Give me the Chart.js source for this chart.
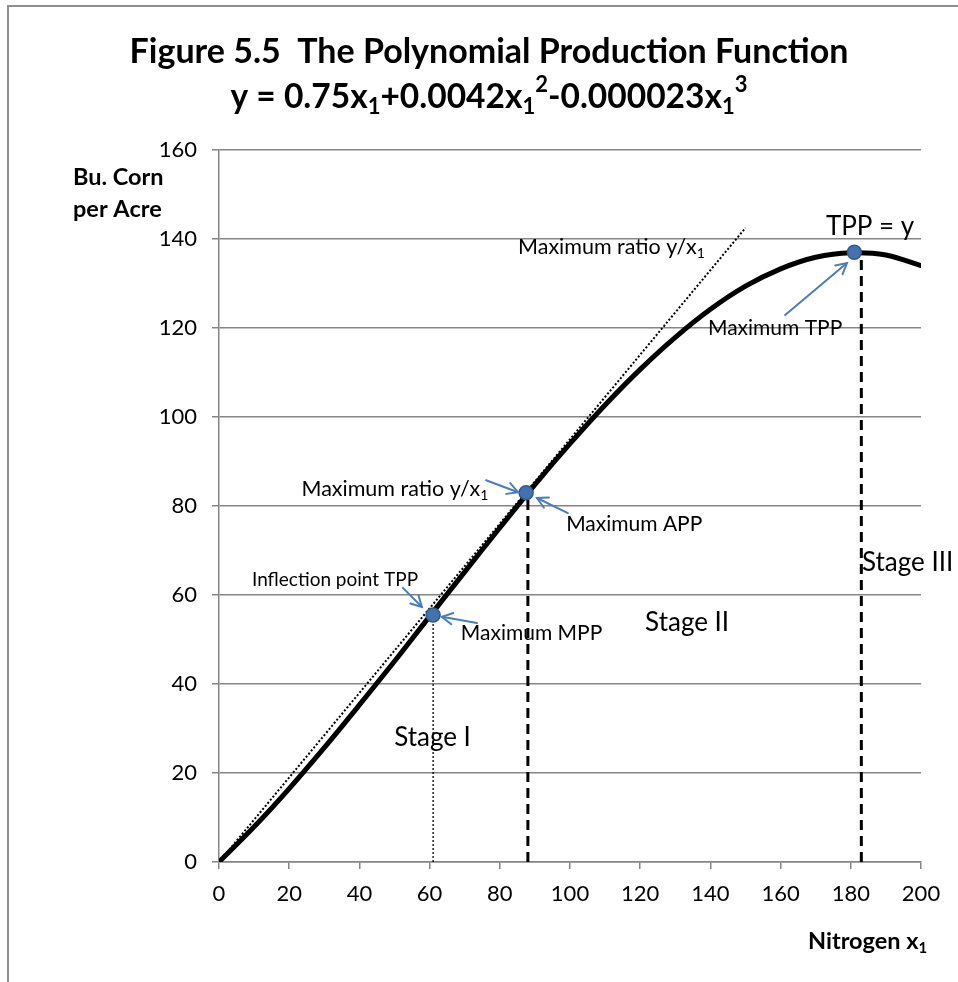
<!DOCTYPE html>
<html><head><meta charset="utf-8">
<script src="https://cdn.jsdelivr.net/npm/chart.js@4.4.1/dist/chart.umd.min.js"></script>
<style>html,body{margin:0;padding:0;background:#fff;overflow:hidden}
#wrap{position:relative;width:958px;height:982px}</style>
</head><body><div id="wrap"><canvas id="c" width="958" height="982"></canvas></div>
<script>
// ---- data ----
const nitrogen   = [0,10,20,30,40,50,60,70,80,90,100,110,120,130,140,150,160,170,180,190,200];
const cornYield  = [0,7.9,16.5,25.7,35.3,45.1,55.2,65.2,75.1,84.8,94.0,102.7,110.7,117.9,124.2,129.4,133.3,135.9,136.9,136.4,134.0];
const rayX       = [0,150];
const rayY       = [0,142.5];
const keyX       = [61,87.5,181];
const keyY       = [55.5,83,137];
const stageLineX = [61,88,183];
const stageLineTop = [55.5,83,136];
const xTicks = [0,20,40,60,80,100,120,140,160,180,200];
const yTicks = [0,20,40,60,80,100,120,140,160];

// annotation labels (data coordinates)
const labels = [
  {x:9.4,  y:63.4, segs:[{t:'Inflection point TPP'}], size:19},
  {x:68.9, y:51.5, segs:[{t:'Maximum MPP'}], size:21},
  {x:23.5, y:83.8, segs:[{t:'Maximum ratio y/x'},{t:'1',sub:true}], size:21.5},
  {x:98.9, y:76.0, segs:[{t:'Maximum APP'}], size:21},
  {x:85.2, y:138.2, segs:[{t:'Maximum ratio y/x'},{t:'1',sub:true}], size:21.5},
  {x:139.3,y:120.0, segs:[{t:'Maximum TPP'}], size:21},
  {x:172.9,y:142.8, segs:[{t:'TPP = y'}], size:26},
  {x:121.4,y:53.9, segs:[{t:'Stage II'}], size:26},
  {x:49.9, y:27.9, segs:[{t:'Stage I'}], size:26},
  {x:183.2,y:67.2, segs:[{t:'Stage III'}], size:26}
];
// arrows: from (x1,y1) to tip (x2,y2), data coordinates
const arrowFromX = [52.4,73.5,76.1,99.4,161.3];
const arrowFromY = [61.6,53.7,85.8,78.4,122.9];
const arrowToX   = [57.8,63.5,85.2,90.6,178.9];
const arrowToY   = [57.3,55.1,83.1,81.8,134.6];

const FONT = 'Lato, "Open Sans", sans-serif';

function pts(xs, ys){ return xs.map((x,i)=>({x:x, y:ys[i]})); }

function richText(ctx, x, y, segs, size, weight, align){
  const main = weight+' '+size+'px '+FONT;
  const small = weight+' '+Math.round(size*0.65)+'px '+FONT;
  let w = 0;
  segs.forEach(s=>{ ctx.font = (s.sub||s.sup)?small:main; s.w = ctx.measureText(s.t).width; w += s.w; });
  let cx = align==='center' ? x - w/2 : x;
  ctx.textAlign = 'left'; ctx.textBaseline = 'middle'; ctx.fillStyle = '#000';
  segs.forEach(s=>{
    ctx.font = (s.sub||s.sup)?small:main;
    let dy = s.sub ? size*0.3 : (s.sup ? -size*0.35 : 0);
    ctx.fillText(s.t, cx, y+dy);
    cx += s.w;
  });
}

function arrow(ctx, x1,y1,x2,y2){
  ctx.beginPath(); ctx.moveTo(x1,y1); ctx.lineTo(x2,y2); ctx.stroke();
  const a = Math.atan2(y2-y1, x2-x1), L = 12, sp = 0.5;
  ctx.beginPath();
  ctx.moveTo(x2 - L*Math.cos(a-sp), y2 - L*Math.sin(a-sp));
  ctx.lineTo(x2,y2);
  ctx.lineTo(x2 - L*Math.cos(a+sp), y2 - L*Math.sin(a+sp));
  ctx.stroke();
}

const decor = {
  id:'decor',
  beforeDraw(chart){
    const ctx = chart.ctx;
    ctx.save();
    ctx.fillStyle = '#fff'; ctx.fillRect(0,0,chart.width,chart.height);
    ctx.strokeStyle = '#8f8f8f'; ctx.lineWidth = 2;
    ctx.beginPath(); ctx.moveTo(8,982); ctx.lineTo(8,6); ctx.lineTo(958,6); ctx.stroke();
    ctx.restore();
  },
  afterDatasetsDraw(chart){
    const ctx = chart.ctx, xs = chart.scales.x, ys = chart.scales.y;
    ctx.save();
    ctx.strokeStyle = '#4A7EBB'; ctx.lineWidth = 2; ctx.lineCap = 'round';
    arrowFromX.forEach((_,i)=>{
      arrow(ctx, xs.getPixelForValue(arrowFromX[i]), ys.getPixelForValue(arrowFromY[i]),
                 xs.getPixelForValue(arrowToX[i]), ys.getPixelForValue(arrowToY[i]));
    });
    labels.forEach(l=>{
      richText(ctx, xs.getPixelForValue(l.x), ys.getPixelForValue(l.y), l.segs, l.size, 'normal', 'left');
    });
    // titles
    richText(ctx, 489, 52, [{t:'Figure 5.5  The Polynomial Production Function'}], 34, 'bold', 'center');
    richText(ctx, 489, 97, [{t:'y = 0.75x'},{t:'1',sub:true},{t:'+0.0042x'},{t:'1',sub:true},{t:'2',sup:true},
      {t:'-0.000023x'},{t:'1',sub:true},{t:'3',sup:true}], 33.5, 'bold', 'center');
    // axis titles
    richText(ctx, 73, 177, [{t:'Bu. Corn'}], 23.5, 'bold', 'left');
    richText(ctx, 73, 209, [{t:'per Acre'}], 23.5, 'bold', 'left');
    richText(ctx, 808, 941, [{t:'Nitrogen x'},{t:'1',sub:true}], 23.5, 'bold', 'left');
    ctx.restore();
  }
};

const dashLine = (xv, top, dash, w) => ({
  data: pts([xv,xv],[0,top]), borderColor:'#000', borderWidth:w, borderDash:dash,
  pointRadius:0, fill:false, tension:0, order:2
});

new Chart(document.getElementById('c'), {
  type:'line',
  data:{ datasets:[
    { data: pts(keyX,keyY), showLine:false, pointRadius:7, pointBackgroundColor:'#4472B0',
      pointBorderColor:'#33598C', pointBorderWidth:1.5, order:0 },
    { data: pts(nitrogen,cornYield), borderColor:'#000', borderWidth:5, pointRadius:0,
      tension:0.35, fill:false, order:1, borderCapStyle:'round' },
    { data: pts(rayX,rayY), borderColor:'#000', borderWidth:2, borderDash:[2,2], pointRadius:0,
      tension:0, fill:false, order:2 },
    dashLine(stageLineX[0], stageLineTop[0], [2,2], 1.3),
    dashLine(stageLineX[1], stageLineTop[1], [10,6], 3),
    dashLine(stageLineX[2], stageLineTop[2], [10,6], 3)
  ]},
  options:{
    responsive:false, animation:false, devicePixelRatio:1,
    layout:{ padding:{ left:0, right:37, top:150, bottom:0 } },
    plugins:{ legend:{display:false}, tooltip:{enabled:false}, title:{display:false} },
    scales:{
      x:{ type:'linear', min:0, max:200,
        afterBuildTicks(s){ s.ticks = xTicks.map(v=>({value:v})); },
        ticks:{ font:{family:FONT, size:22}, color:'#000', padding:12, maxRotation:0 },
        grid:{ drawOnChartArea:false, tickLength:7, color:'#868686', lineWidth:1.5 },
        border:{ color:'#868686', width:1.5 },
        afterFit(s){ s.height = 120; } },
      y:{ type:'linear', min:0, max:160,
        afterBuildTicks(s){ s.ticks = yTicks.map(v=>({value:v})); },
        ticks:{ font:{family:FONT, size:22}, color:'#000', padding:15 },
        grid:{ tickLength:7, color:'#868686', lineWidth:1.5 },
        border:{ color:'#868686', width:1.5 },
        afterFit(s){ s.width = 219; } }
    }
  },
  plugins:[decor]
});
</script></body></html>
